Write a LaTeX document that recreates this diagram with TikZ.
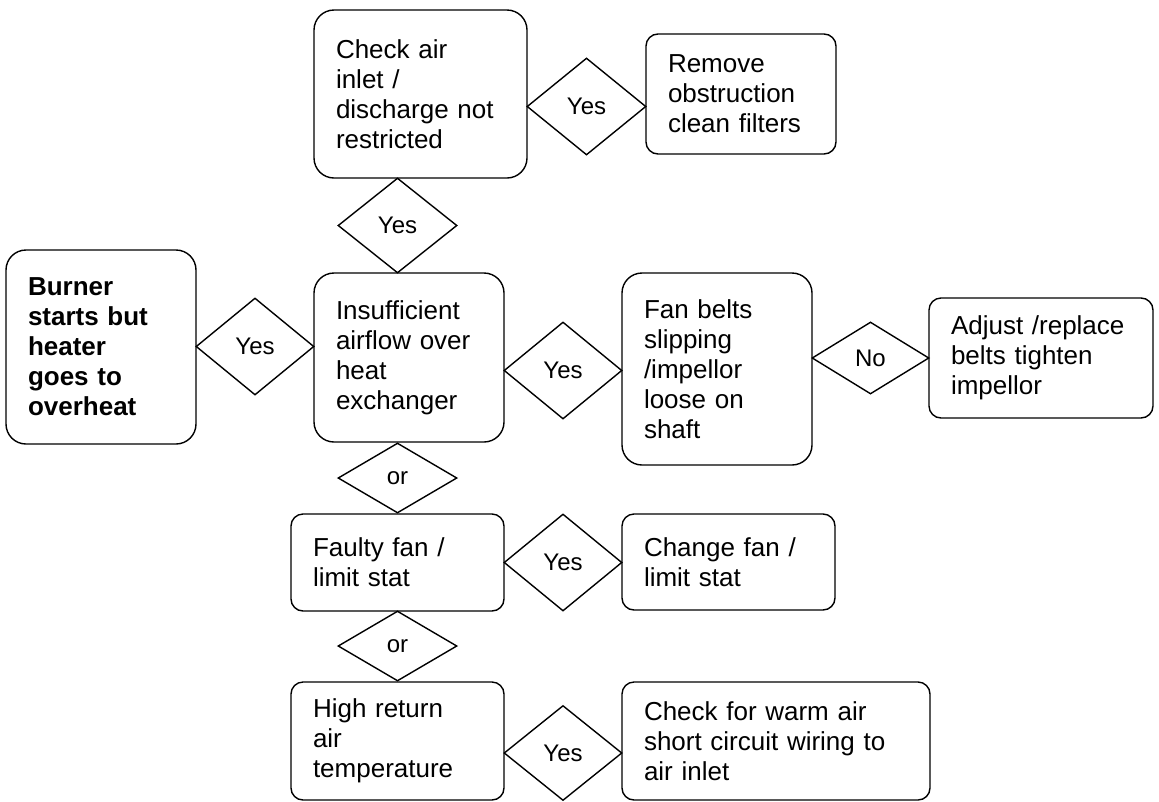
\documentclass[tikz,border=0pt]{standalone}
\usepackage{fontspec}
\setmainfont{Liberation Sans}
\usetikzlibrary{shapes.geometric}

\begin{document}
\begin{tikzpicture}[x=1pt,y=-1pt,line width=1.4pt]
  \tikzset{
  op/.style={
    rectangle,
    draw=black,
    rounded corners=12pt,
    align=left,
    inner xsep=22pt,
    inner ysep=0pt,
    font=\fontsize{26}{30}\selectfont
  },
  bigop/.style={
    op,
    rounded corners=20pt
  },
  dec/.style={
    diamond,
    draw=black,
    inner sep=0pt,
    font=\fontsize{24}{28}\selectfont
  }
}
\useasboundingbox (0,0) rectangle (1159,801);

\node[bigop, text width=169pt, minimum height=168pt] at (420.5,94)
  (checkinlet) {Check air\\inlet /\\discharge not\\restricted};
\node[op, text width=146pt, minimum height=120pt] at (741,94)
  (removeobstruction) {Remove\\obstruction\\clean filters};
\node[bigop, text width=146pt, minimum height=194pt] at (101,347)
  (burner) {\bfseries Burner\\starts but\\heater\\goes to\\overheat};
\node[bigop, text width=146pt, minimum height=169pt] at (409,357.5)
  (airflow) {Insufficient\\airflow over\\heat\\exchanger};
\node[bigop, text width=146pt, minimum height=192pt] at (717,369)
  (fanbelts) {Fan belts\\slipping\\/impellor\\loose on\\shaft};
\node[op, text width=180pt, minimum height=120pt] at (1041,358)
  (adjustbelts) {Adjust /replace\\belts tighten\\impellor};
\node[op, text width=169pt, minimum height=97pt] at (397.5,562.5)
  (faultyfan) {Faulty fan /\\limit stat};
\node[op, text width=169pt, minimum height=96pt] at (728.5,562)
  (changefan) {Change fan /\\limit stat};
\node[op, text width=169pt, minimum height=118pt] at (397.5,741)
  (highreturn) {High return\\air\\temperature};
\node[op, text width=264pt, minimum height=118pt] at (776,741)
  (warmair) {Check for warm air\\short circuit wiring to\\air inlet};

\node[dec, minimum width=119pt, minimum height=97pt] at (586.5,106.5)
  (yesremove) {Yes};
\node[dec, minimum width=119pt, minimum height=95pt] at (397.5,225.5)
  (yesinlet) {Yes};
\node[dec, minimum width=118pt, minimum height=97pt] at (255,346.5)
  (yesairflow) {Yes};
\node[dec, minimum width=118pt, minimum height=97pt] at (563,370.5)
  (yesfanbelts) {Yes};
\node[dec, minimum width=117pt, minimum height=72pt] at (870.5,358)
  (noadjust) {No};
\node[dec, minimum width=119pt, minimum height=70pt] at (397.5,478)
  (orfaulty) {or};
\node[dec, minimum width=118pt, minimum height=97pt] at (563,562.5)
  (yeschange) {Yes};
\node[dec, minimum width=119pt, minimum height=70pt] at (397.5,646)
  (orhigh) {or};
\node[dec, minimum width=118pt, minimum height=95pt] at (563,753)
  (yeswarmair) {Yes};

\end{tikzpicture}
\end{document}
